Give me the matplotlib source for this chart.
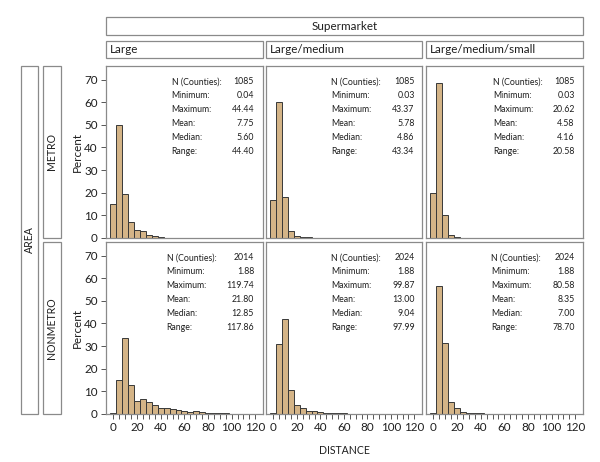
import numpy as np
import matplotlib
matplotlib.use("Agg")
import matplotlib.pyplot as plt
from matplotlib.patches import Rectangle

plt.rcParams['font.family'] = ['Lato', 'DejaVu Sans']

# ---- data ----
bin_centers = np.arange(0, 125, 5)
col_labels = ["Large", "Large/medium", "Large/medium/small"]
row_labels = ["METRO", "NONMETRO"]

metro_large = [15.0, 50.1, 19.5, 6.9, 3.5, 3.1, 1.4, 0.7, 0.4, 0.1]
metro_lm = [16.6, 60.0, 18.1, 3.2, 0.9, 0.4, 0.3, 0.2, 0.2]
metro_lms = [20.0, 68.7, 10.3, 1.2, 0.3]
nonmetro_large = [0.3, 14.9, 33.4, 12.7, 5.8, 6.7, 5.4, 3.9, 2.8, 2.5, 2.3, 1.6,
                  1.3, 1.0, 1.4, 0.7, 0.6, 0.5, 0.4, 0.3, 0.15, 0.05, 0.05, 0.05, 0.05]
nonmetro_lm = [0.3, 30.9, 41.8, 10.7, 4.1, 2.5, 1.3, 1.5, 0.9, 0.6, 0.5, 0.5,
               0.4, 0.2, 0.1, 0.05, 0.05, 0.05, 0.05, 0.05, 0.05]
nonmetro_lms = [0.3, 56.6, 31.4, 5.5, 2.8, 0.9, 0.6, 0.5, 0.5, 0.05, 0.05, 0.05,
                0.05, 0.05, 0.05, 0.05, 0.05]

stat_names = ["N (Counties):", "Minimum:", "Maximum:", "Mean:", "Median:", "Range:"]
stats_metro_large = ["1085", "0.04", "44.44", "7.75", "5.60", "44.40"]
stats_metro_lm = ["1085", "0.03", "43.37", "5.78", "4.86", "43.34"]
stats_metro_lms = ["1085", "0.03", "20.62", "4.58", "4.16", "20.58"]
stats_nonmetro_large = ["2014", "1.88", "119.74", "21.80", "12.85", "117.86"]
stats_nonmetro_lm = ["2024", "1.88", "99.87", "13.00", "9.04", "97.99"]
stats_nonmetro_lms = ["2024", "1.88", "80.58", "8.35", "7.00", "78.70"]

hist_data = [[metro_large, metro_lm, metro_lms],
             [nonmetro_large, nonmetro_lm, nonmetro_lms]]
stats_data = [[stats_metro_large, stats_metro_lm, stats_metro_lms],
              [stats_nonmetro_large, stats_nonmetro_lm, stats_nonmetro_lms]]

# ---- layout (pixels) ----
W, H = 600, 462
fig = plt.figure(figsize=(W / 100, H / 100), dpi=100)

def fx(x):
    return x / W

def fy(y):
    return 1 - y / H

col_px = [(106, 263), (266, 422), (426, 583)]
row_px = [(66, 238), (242, 414)]
label_x = [[171.7, 331.3, 493.0], [166.7, 331.3, 491.3]]
value_x = [[254, 414.7, 574.7], [254, 414.7, 574.7]]

frame_col = "#8a8a8a"
bar_col = "#D4B487"
edge_col = "#383838"
text_col = "#1e1e1e"
fs = 8.4
fs_small = 6.3

def box(x0, y0, x1, y1):
    r = Rectangle((fx(x0), fy(y1)), fx(x1) - fx(x0), fy(y0) - fy(y1),
                  transform=fig.transFigure, fill=False, edgecolor=frame_col,
                  linewidth=0.9)
    fig.add_artist(r)

for r, (y0, y1) in enumerate(row_px):
    for c, (x0, x1) in enumerate(col_px):
        ax = fig.add_axes([fx(x0), fy(y1), fx(x1) - fx(x0), fy(y0) - fy(y1)])
        vals = hist_data[r][c]
        ax.bar(bin_centers[:len(vals)], vals, width=5, color=bar_col,
               edgecolor=edge_col, linewidth=0.7)
        ax.set_xlim(-6.3, 126.5)
        ax.set_ylim(0, 76)
        for s in ax.spines.values():
            s.set_color(frame_col)
            s.set_linewidth(0.9)
        ax.tick_params(colors="#555555", labelcolor=text_col, labelsize=fs,
                       length=3.5, width=0.7, pad=2.5)
        if c == 0:
            ax.set_yticks(np.arange(0, 71, 10))
        else:
            ax.set_yticks([])
        if r == 1:
            ax.set_xticks(np.arange(0, 121, 5))
            ax.set_xticklabels([str(v) if v % 20 == 0 else "" for v in range(0, 121, 5)])
        else:
            ax.set_xticks([])
        # stats inset
        for i, (nm, v) in enumerate(zip(stat_names, stats_data[r][c])):
            yy = y0 + 15.8 + 14.0 * i
            fig.text(fx(label_x[r][c]), fy(yy), nm, fontsize=fs_small, ha="left",
                     va="center", color=text_col)
            fig.text(fx(value_x[r][c]), fy(yy), v, fontsize=fs_small, ha="right",
                     va="center", color=text_col)
    # Percent label
    fig.text(fx(77), fy((y0 + y1) / 2), "Percent", rotation=90, fontsize=fs,
             ha="center", va="center", color=text_col)

# header boxes
box(106, 17, 583, 35)
fig.text(fx((106 + 583) / 2), fy(26), "Supermarket", fontsize=fs,
         ha="center", va="center", color=text_col)
for c, (x0, x1) in enumerate(col_px):
    box(x0, 41, x1, 58)
    fig.text(fx(x0 + 4), fy(49.5), col_labels[c], fontsize=fs,
             ha="left", va="center", color=text_col)

# row boxes
box(21, 66, 38, 414)
fig.text(fx(29.5), fy(240), "AREA", rotation=90, fontsize=7.6,
         ha="center", va="center", color=text_col)
for r, (y0, y1) in enumerate(row_px):
    box(43, y0, 61, y1)
    fig.text(fx(52), fy((y0 + y1) / 2), row_labels[r], rotation=90,
             fontsize=7.6, ha="center", va="center", color=text_col)

fig.text(fx(344.5), fy(450), "DISTANCE", fontsize=7.6, ha="center",
         va="center", color=text_col)

fig.savefig("out.png", dpi=100)
